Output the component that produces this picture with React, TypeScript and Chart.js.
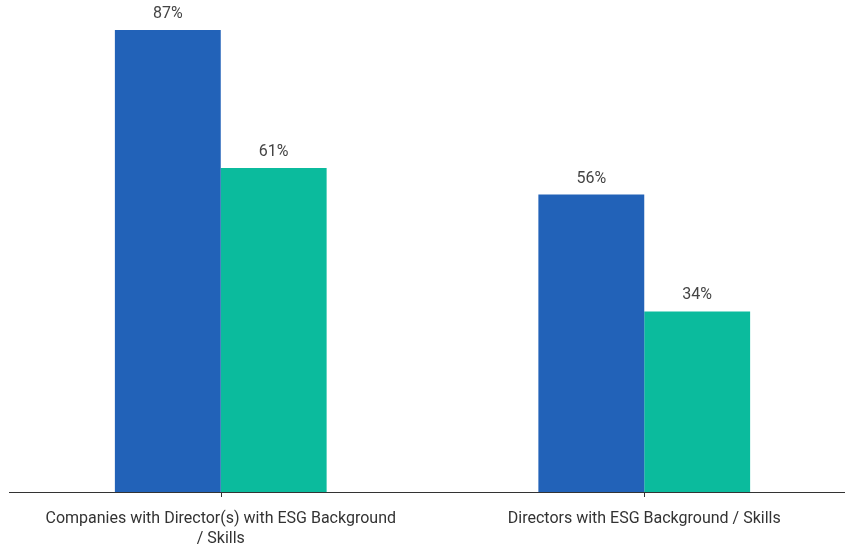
import React, { useEffect, useRef } from "react";
import { Chart, registerables } from "chart.js";

Chart.register(...registerables);

const categories: string[][] = [
  ["Companies with Director(s) with ESG Background", "/ Skills"],
  ["Directors with ESG Background / Skills"],
];
const seriesA: number[] = [87, 56];
const seriesB: number[] = [61, 34];
const seriesNames: string[] = ["Series A", "Series B"];
const colorA = "#2262b8";
const colorB = "#0bbb9d";

const valueLabels = {
  id: "valueLabels",
  afterDatasetsDraw(chart: any) {
    const ctx = chart.ctx;
    ctx.save();
    ctx.font = "16px Roboto";
    ctx.fillStyle = "#444444";
    ctx.textAlign = "center";
    ctx.textBaseline = "alphabetic";
    chart.data.datasets.forEach((ds: any, i: number) => {
      const meta = chart.getDatasetMeta(i);
      meta.data.forEach((bar: any, j: number) => {
        ctx.fillText(ds.data[j] + "%", bar.x, bar.y - 12);
      });
    });
    ctx.restore();
  },
};

const tickMarks = {
  id: "tickMarks",
  afterDraw(chart: any) {
    const ctx = chart.ctx;
    const xs = chart.scales.x;
    ctx.save();
    ctx.strokeStyle = "#333333";
    ctx.lineWidth = 1;
    for (let i = 0; i < categories.length; i++) {
      const x = Math.round(xs.getPixelForTick(i)) + 0.5;
      ctx.beginPath();
      ctx.moveTo(x, chart.chartArea.bottom);
      ctx.lineTo(x, chart.chartArea.bottom + 5);
      ctx.stroke();
    }
    ctx.restore();
  },
};

export default function App() {
  const ref = useRef<HTMLCanvasElement>(null);
  useEffect(() => {
    if (!ref.current) return;
    const chart = new Chart(ref.current, {
      type: "bar",
      data: {
        labels: categories,
        datasets: [
          { label: seriesNames[0], data: seriesA, backgroundColor: colorA, categoryPercentage: 0.5, barPercentage: 1 },
          { label: seriesNames[1], data: seriesB, backgroundColor: colorB, categoryPercentage: 0.5, barPercentage: 1 },
        ],
      },
      options: {
        animation: false,
        responsive: false,
        maintainAspectRatio: false,
        layout: { padding: { left: 9, right: 4, top: 14, bottom: 0 } },
        plugins: { legend: { display: false }, tooltip: { enabled: false } },
        scales: {
          x: {
            grid: { display: false, drawTicks: false },
            border: { display: true, color: "#333333", width: 1 },
            ticks: { color: "#333333", font: { family: "Roboto", size: 16, lineHeight: 1.25 }, padding: 17, maxRotation: 0, autoSkip: false },
            afterFit: (s: any) => { s.height = 53; },
          },
          y: {
            display: false,
            min: 0,
            max: 90,
          },
        },
      },
      plugins: [valueLabels, tickMarks],
    });
    return () => chart.destroy();
  }, []);
  return (
    <div style={{ position: "fixed", left: 0, top: 0, width: 845, height: 545, overflow: "hidden", background: "#fff" }}>
      <canvas ref={ref} width={860} height={545} style={{ display: "block" }} />
    </div>
  );
}
